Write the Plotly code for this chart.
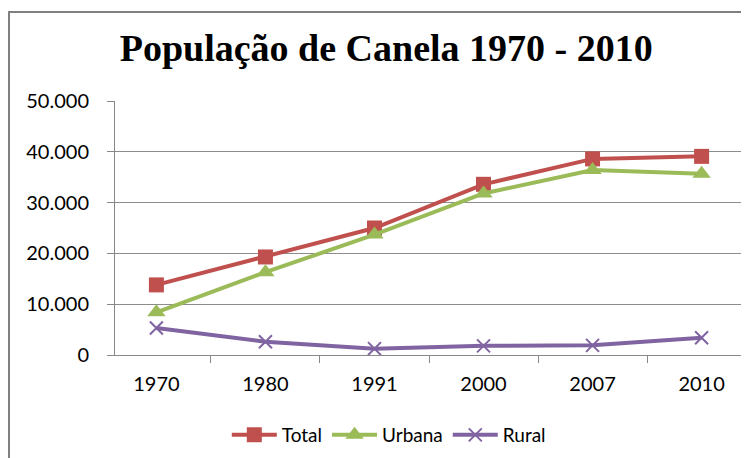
import plotly.graph_objects as go

anos = ["1970", "1980", "1991", "2000", "2007", "2010"]
total = [13800, 19300, 25000, 33600, 38600, 39100]
urbana = [8400, 16300, 23700, 31800, 36400, 35700]
rural = [5300, 2600, 1250, 1800, 1900, 3400]

fig = go.Figure()
fig.add_trace(go.Scatter(x=anos, y=total, name="Total", mode="lines+markers",
                         line=dict(color="#C0504D", width=4),
                         marker=dict(symbol="square", size=15, color="#C0504D")))
fig.add_trace(go.Scatter(x=anos, y=urbana, name="Urbana", mode="lines+markers",
                         line=dict(color="#9BBB59", width=4),
                         marker=dict(symbol="triangle-up", size=16, color="#9BBB59")))
fig.add_trace(go.Scatter(x=anos, y=rural, name="Rural", mode="lines+markers",
                         line=dict(color="#8064A2", width=4),
                         marker=dict(symbol="x-thin", size=13, line=dict(color="#8064A2", width=2))))

# page body has an 8px margin, so the figure is offset by 8px
fig.update_layout(
    width=749, height=458,
    margin=dict(l=107, r=14, t=93, b=111, autoexpand=False),
    paper_bgcolor="white", plot_bgcolor="white",
    separators=",.",
    title=dict(text="<b>População de Canela 1970 - 2010</b>", x=0.505, xanchor="center",
               y=0.913, yanchor="middle",
               font=dict(family="Liberation Serif", size=38, color="black")),
    font=dict(family="Lato", color="black"),
    xaxis=dict(type="category", showline=True, linecolor="#888888", linewidth=1,
               ticks="outside", tickson="boundaries", ticklen=7, tickcolor="#888888",
               showgrid=False, tickfont=dict(size=20), ticklabelstandoff=11),
    yaxis=dict(range=[0, 50000], dtick=10000, tickformat=",.0f", showline=True,
               linecolor="#888888", ticks="outside", ticklen=7, tickcolor="#888888",
               gridcolor="#8C8C8C", gridwidth=1, zeroline=False,
               tickfont=dict(size=20), ticklabelstandoff=14),
    legend=dict(orientation="h", x=0.436, xanchor="center", y=-0.315, yanchor="middle",
                font=dict(size=19), itemwidth=45),
    shapes=[dict(type="rect", xref="paper", yref="paper", x0=-0.1688, x1=1.008,
                 y0=-0.5, y1=1.3504, line=dict(color="#808080", width=2))],
)

fig.write_html("out.html")
